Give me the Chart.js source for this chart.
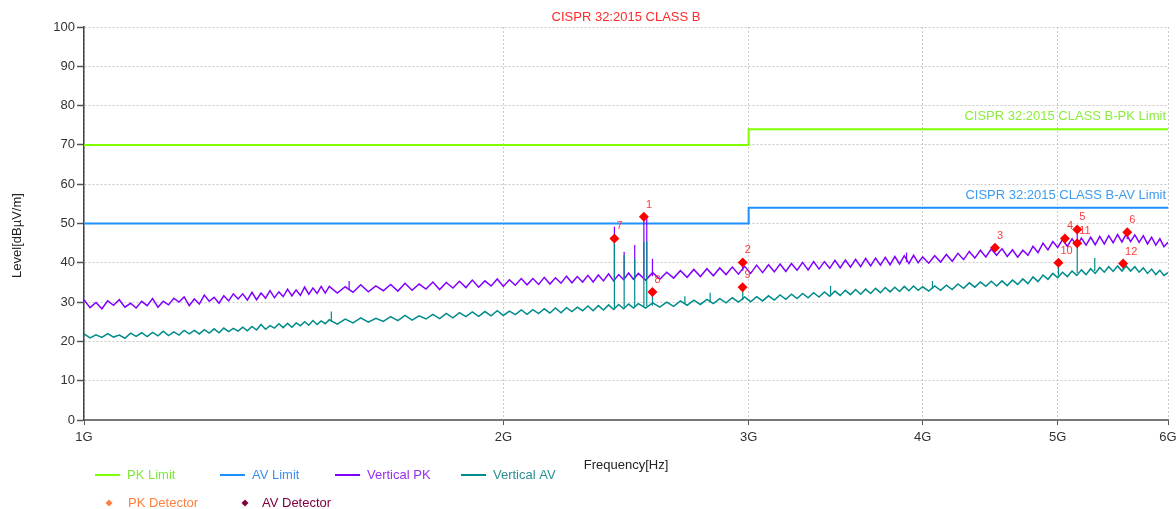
<!DOCTYPE html>
<html>
<head>
<meta charset="utf-8">
<script src="https://cdn.jsdelivr.net/npm/chart.js@4.4.0/dist/chart.umd.min.js"></script>
<style>
  html, body { margin: 0; padding: 0; background: #fff; }
  #wrap { width: 1176px; height: 509px; position: relative; }
</style>
</head>
<body>
<div id="wrap"><canvas id="emiChart"></canvas></div>
<script>
// frequency grid of the scans, MHz
const freqMHz = [
  1000,1010,1020,1030,1040,1050,1060,1070,1080,1090,1100,1110,1120,1130,1140,1150,1160,1170,1180,1190,
  1200,1210,1220,1230,1240,1250,1260,1270,1280,1290,1300,1310,1320,1330,1340,1350,1360,1370,1380,1390,
  1400,1410,1420,1430,1440,1450,1460,1470,1480,1490,
  1500,1520,1540,1560,1580,1600,1620,1640,1660,1680,1700,1720,1740,1760,1780,1800,1820,1840,1860,1880,
  1900,1920,1940,1960,1980,2000,2020,2040,2060,2080,2100,2120,2140,2160,2180,2200,2220,2240,2260,2280,
  2300,2320,2340,2360,2380,2400,2420,2440,2460,2480,
  2500,2530,2560,2590,2620,2650,2680,2710,2740,2770,2800,2830,2860,2890,2920,2950,2980,3010,3040,3070,
  3100,3130,3160,3190,3220,3250,3280,3310,3340,3370,3400,3430,3460,3490,3520,3550,3580,3610,3640,3670,
  3700,3730,3760,3790,3820,3850,3880,3910,3940,3970,
  4000,4040,4080,4120,4160,4200,4240,4280,4320,4360,4400,4440,4480,4520,4560,4600,4640,4680,4720,4760,
  4800,4840,4880,4920,4960,5000,5040,5080,5120,5160,5200,5240,5280,5320,5360,5400,5440,5480,5520,5560,
  5600,5640,5680,5720,5760,5800,5840,5880,5920,5960,6000
];

// Vertical PK trace, dBµV/m
const vertPK = [
  30.6,28.6,29.9,28.3,30.3,29.2,30.6,28.7,29.7,28.5, 30.2,29.1,30.9,28.7,30.2,29.3,31.0,30.0,31.3,29.1,
  30.8,29.5,31.8,30.2,31.2,29.7,31.6,30.3,32.1,30.8, 32.1,30.5,32.5,30.6,32.3,31.0,32.9,31.1,32.6,31.4,
  33.3,31.6,33.1,31.7,33.8,32.0,33.6,32.2,34.0,32.3,
  34.0,32.3,33.9,32.5,34.4,32.6,34.1,32.9,34.5,32.8, 34.8,33.0,34.6,33.3,35.1,33.2,35.0,33.6,35.3,33.7,
  35.6,33.8,35.4,34.1,35.9,34.0,35.7,34.3,36.0,34.4, 36.0,34.5,36.3,34.6,36.2,34.8,36.6,34.9,36.5,35.1,
  36.8,35.1,36.9,35.4,37.2,35.4,37.0,35.7,37.4,35.8,
  37.3,35.6,37.5,35.8,37.6,36.1,38.0,36.3,38.3,36.5, 38.5,36.7,38.7,37.0,38.9,37.1,39.1,37.3,39.4,37.5,
  39.5,37.7,39.7,37.8,39.8,38.1,40.1,38.2,40.3,38.4, 40.3,38.6,40.6,38.7,40.7,38.9,40.9,39.0,41.1,39.2,
  41.2,39.4,41.4,39.5,41.6,39.7,41.8,39.8,41.9,40.0,
  41.5,39.9,41.8,40.2,42.1,40.4,42.4,40.8,42.9,41.2, 43.2,41.5,43.5,41.9,43.6,41.6,43.3,41.4,43.2,41.9,
  44.2,42.6,45.0,43.3,45.4,43.9,45.9,44.2,46.1,44.3, 46.3,44.5,46.5,44.6,46.7,44.8,46.9,45.1,47.2,45.3,
  47.3,45.4,47.1,45.2,46.9,44.8,46.5,44.5,46.1,44.1,45.2
];

// Vertical AV trace, dBµV/m
const vertAV = [
  21.9,20.9,21.7,21.0,22.0,21.1,21.6,20.8,22.1,21.3, 22.2,21.2,22.3,21.4,22.6,21.5,22.4,21.6,22.8,21.9,
  22.8,21.9,23.0,22.1,23.2,22.2,23.4,22.5,23.3,22.6, 23.6,22.7,23.8,22.9,24.3,23.1,24.0,23.4,24.5,23.5,
  24.6,23.6,24.7,24.0,25.0,24.1,25.3,24.3,25.2,24.5,
  25.5,24.4,25.7,24.7,26.0,24.9,25.9,25.1,26.3,25.3, 26.6,25.4,26.5,25.7,26.9,25.8,27.1,26.0,27.3,26.3,
  27.5,26.4,27.6,26.5,27.8,26.6,27.7,26.8,28.0,26.9, 28.1,27.1,28.3,27.2,28.5,27.3,28.6,27.6,28.7,27.8,
  29.0,27.8,29.1,28.0,29.3,28.1,29.4,28.3,29.5,28.5,
  29.6,28.5,29.8,28.7,30.0,28.9,30.3,29.2,30.5,29.4, 30.7,29.6,30.9,29.8,31.1,30.0,31.3,30.1,31.4,30.3,
  31.6,30.5,31.8,30.7,32.0,30.9,32.2,31.1,32.4,31.3, 32.6,31.5,32.8,31.7,33.0,31.9,33.2,32.0,33.3,32.2,
  33.5,32.4,33.7,32.6,33.8,32.7,34.0,32.9,34.1,33.0,
  33.9,32.8,34.1,33.0,34.3,33.2,34.6,33.5,34.9,33.8, 35.1,34.0,35.3,34.1,35.4,34.2,35.6,34.5,35.9,34.7,
  36.4,35.2,36.9,35.8,37.3,36.2,37.6,36.5,37.9,36.8, 38.2,37.0,38.5,37.3,38.8,37.6,39.0,37.8,39.2,37.9,
  39.2,37.9,39.0,37.6,38.7,37.3,38.4,37.0,38.1,36.8,37.5
];

// narrow emissions sticking out of the noise floor (null = none in that trace)
const spikeFreq   = [1505, 1550, 2403, 2442, 2485, 2523, 2535, 2559, 2700, 2815, 2971, 3435, 3895, 4065, 4508, 5006, 5060, 5164, 5316, 5571, 5609];
const pkSpikeBase = [null, 33.3, 36.0, 36.1, 36.2, 36.4, 36.5, 36.6, null, null, 38.0, null, 40.2, null, 42.8, null, 44.9, 45.1, null, null, 46.0];
const pkSpikeTop  = [null, 35.4, 49.2, 42.8, 44.5, 51.7, 51.5, 41.0, null, null, 40.1, null, 42.6, null, 43.8, null, 46.2, 48.5, null, null, 47.8];
const avSpikeBase = [25.0, null, 28.5, 28.6, 28.8, 29.0, 29.0, 29.1, 29.7, 30.1, 30.5, 31.9, null, 33.4, null, 36.8, null, 37.4, 37.9, 38.4, null];
const avSpikeTop  = [27.6, null, 46.2, 42.0, 41.0, 45.4, 45.4, 32.6, 31.5, 32.4, 33.8, 34.1, null, 35.4, null, 40.0, null, 45.0, 41.2, 39.8, null];

// limit lines
const limitFreq = [1000, 3000, 3000, 6000];
const pkLimit = [70, 70, 74, 74];
const avLimit = [50, 50, 54, 54];

// detector markers
const pkDetFreq  = [2523, 2971, 4508, 5060, 5164, 5609];
const pkDetLevel = [51.7, 40.1, 43.8, 46.2, 48.5, 47.8];
const pkDetNo    = ['1', '2', '3', '4', '5', '6'];
const avDetFreq  = [2403, 2559, 2970, 5006, 5164, 5571];
const avDetLevel = [46.2, 32.6, 33.8, 40.0, 45.0, 39.8];
const avDetNo    = ['7', '8', '9', '10', '11', '12'];

const xTickValues = [1000, 2000, 3000, 4000, 5000, 6000];
const xTickLabels = ['1G', '2G', '3G', '4G', '5G', '6G'];

const chartTitle = 'CISPR 32:2015 CLASS B';
const pkLimitName = 'CISPR 32:2015 CLASS B-PK Limit';
const avLimitName = 'CISPR 32:2015 CLASS B-AV Limit';

const FONT = "'Liberation Sans', Arial, sans-serif";
const C_PKLIM = '#80ff00', C_AVLIM = '#1e90ff', C_PK = '#8000ff', C_AV = '#008b8b';

function pts(xs, ys) {
    return xs.map((x, i) => ({ x: x, y: ys[i] }));
}
function spikes(base, top) {
    const out = [];
    spikeFreq.forEach((f, i) => {
        if (top[i] == null) return;
        out.push({ x: f, y: base[i] }, { x: f, y: top[i] }, { x: f + 0.5, y: null });
    });
    return out;
}

const textPlugin = {
    id: 'emiText',
    afterDraw(chart) {
        const { ctx, chartArea: a, scales: { x, y } } = chart;
        ctx.save();
        ctx.textBaseline = 'middle';

        ctx.font = '13px ' + FONT;
        ctx.fillStyle = '#ff2a2a';
        ctx.textAlign = 'center';
        ctx.fillText(chartTitle, (a.left + a.right) / 2, 17);

        ctx.textAlign = 'right';
        ctx.fillStyle = '#8ced3c';
        ctx.fillText(pkLimitName, a.right - 2, y.getPixelForValue(pkLimit[3]) - 13);
        ctx.fillStyle = '#3c9cf0';
        ctx.fillText(avLimitName, a.right - 2, y.getPixelForValue(avLimit[3]) - 12);

        // axis titles
        ctx.fillStyle = '#222';
        ctx.textAlign = 'center';
        ctx.fillText('Frequency[Hz]', (a.left + a.right) / 2, 465);
        ctx.save();
        ctx.translate(17, (a.top + a.bottom) / 2 + 12);
        ctx.rotate(-Math.PI / 2);
        ctx.fillText('Level[dBµV/m]', 0, 0);
        ctx.restore();

        // marker numbers
        ctx.font = '11px ' + FONT;
        ctx.fillStyle = '#ff3c3c';
        ctx.textAlign = 'left';
        [[6, pkDetNo], [7, avDetNo]].forEach(([di, nos]) => {
            chart.getDatasetMeta(di).data.forEach((el, i) => {
                ctx.fillText(nos[i], el.x + 2, el.y - 12);
            });
        });

        // legend
        ctx.font = '13px ' + FONT;
        const row1 = [
            ['PK Limit', C_PKLIM, '#7ee83a', 95],
            ['AV Limit', C_AVLIM, '#3c8ff0', 220],
            ['Vertical PK', C_PK, '#9530f0', 335],
            ['Vertical AV', C_AV, '#2a9090', 461]
        ];
        row1.forEach(([t, lc, tc, lx]) => {
            ctx.strokeStyle = lc;
            ctx.lineWidth = 2;
            ctx.beginPath();
            ctx.moveTo(lx, 475);
            ctx.lineTo(lx + 25, 475);
            ctx.stroke();
            ctx.fillStyle = tc;
            ctx.fillText(t, lx + 32, 475);
        });
        const row2 = [
            ['PK Detector', '#ff8040', 109, 128],
            ['AV Detector', '#800040', 245, 262]
        ];
        row2.forEach(([t, c, mx, tx]) => {
            ctx.fillStyle = c;
            ctx.beginPath();
            ctx.moveTo(mx, 499.5);
            ctx.lineTo(mx + 3.5, 503);
            ctx.lineTo(mx, 506.5);
            ctx.lineTo(mx - 3.5, 503);
            ctx.closePath();
            ctx.fill();
            ctx.fillText(t, tx, 503);
        });
        ctx.restore();
    }
};

let emiChart;

document.addEventListener('DOMContentLoaded', function () {
    const ctx = document.getElementById('emiChart');
    emiChart = new Chart(ctx, {
        type: 'line',
        data: {
            datasets: [{
                label: 'PK Limit',
                data: pts(limitFreq, pkLimit),
                borderColor: C_PKLIM,
                borderWidth: 2,
                order: 6
            }, {
                label: 'AV Limit',
                data: pts(limitFreq, avLimit),
                borderColor: C_AVLIM,
                borderWidth: 2,
                order: 5
            }, {
                label: 'Vertical PK',
                data: pts(freqMHz, vertPK),
                borderColor: C_PK,
                borderWidth: 1.5,
                order: 4
            }, {
                label: 'Vertical AV',
                data: pts(freqMHz, vertAV),
                borderColor: C_AV,
                borderWidth: 1.5,
                order: 3
            }, {
                label: 'PK spikes',
                data: spikes(pkSpikeBase, pkSpikeTop),
                borderColor: C_PK,
                borderWidth: 1.2,
                spanGaps: false,
                order: 2
            }, {
                label: 'AV spikes',
                data: spikes(avSpikeBase, avSpikeTop),
                borderColor: C_AV,
                borderWidth: 1.2,
                spanGaps: false,
                order: 1
            }, {
                label: 'PK Detector',
                data: pts(pkDetFreq, pkDetLevel),
                showLine: false,
                pointStyle: 'rectRot',
                pointRadius: 5,
                pointBackgroundColor: '#ff0000',
                pointBorderColor: '#ff0000',
                pointBorderWidth: 0,
                order: 0
            }, {
                label: 'AV Detector',
                data: pts(avDetFreq, avDetLevel),
                showLine: false,
                pointStyle: 'rectRot',
                pointRadius: 5,
                pointBackgroundColor: '#ff0000',
                pointBorderColor: '#ff0000',
                pointBorderWidth: 0,
                order: 0
            }]
        },
        options: {
            responsive: true,
            maintainAspectRatio: false,
            animation: false,
            elements: {
                point: { radius: 0 },
                line: { tension: 0 }
            },
            layout: {
                padding: { top: 27, right: 8, left: 0, bottom: 0 }
            },
            plugins: {
                legend: { display: false },
                tooltip: { enabled: false },
                title: { display: false }
            },
            scales: {
                x: {
                    type: 'logarithmic',
                    min: 1000,
                    max: 6000,
                    afterBuildTicks: s => { s.ticks = xTickValues.map(v => ({ value: v })); },
                    afterFit: s => { s.height = 89; s.paddingLeft = 0; s.paddingRight = 0; },
                    ticks: {
                        color: '#333',
                        font: { family: FONT, size: 13 },
                        padding: 5,
                        maxRotation: 0,
                        callback: (v, i) => xTickLabels[i]
                    },
                    grid: {
                        color: '#c8c8c8',
                        tickColor: '#555',
                        tickLength: 5,
                        tickBorderDash: []
                    },
                    border: { color: '#777', width: 2, dash: [2, 2] }
                },
                y: {
                    min: 0,
                    max: 100,
                    afterFit: s => { s.width = 84; },
                    ticks: {
                        stepSize: 10,
                        color: '#333',
                        font: { family: FONT, size: 13 },
                        padding: 2
                    },
                    grid: {
                        color: '#c8c8c8',
                        tickColor: '#555',
                        tickLength: 7,
                        tickWidth: 1.5,
                        tickBorderDash: []
                    },
                    border: { color: '#444', width: 1.5, dash: [2, 2] }
                }
            }
        },
        plugins: [textPlugin]
    });
});
</script>
</body>
</html>
